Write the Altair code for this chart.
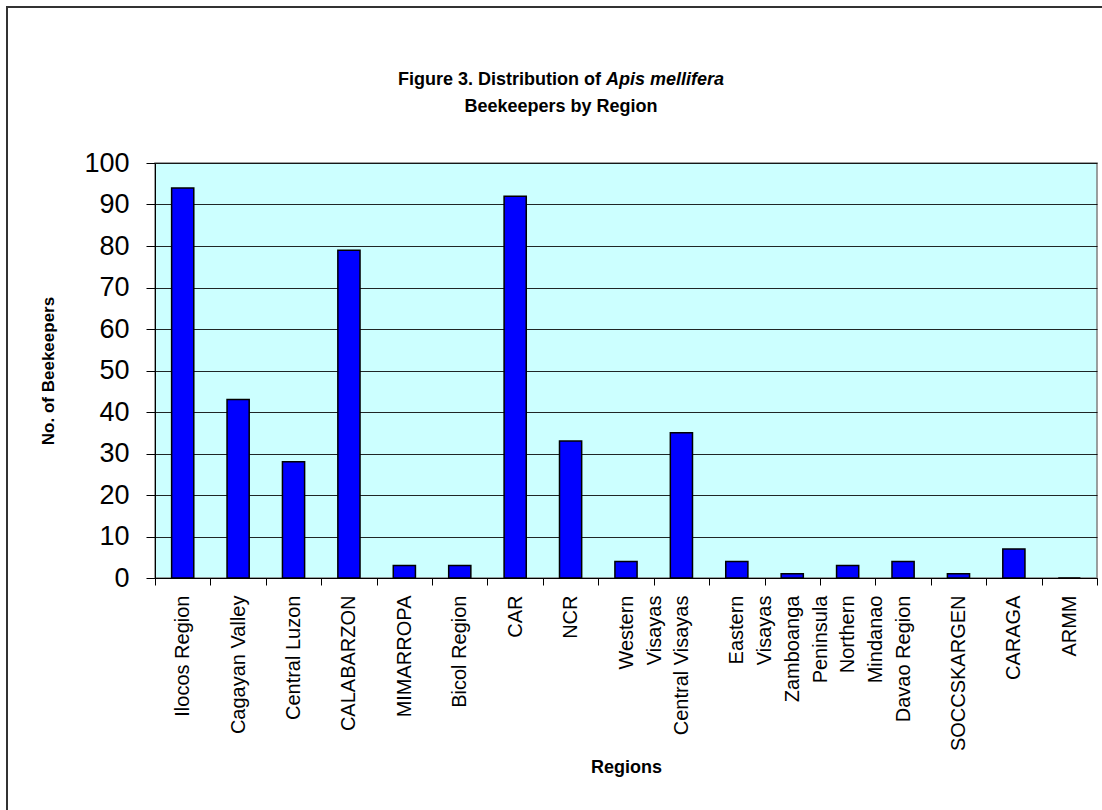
import altair as alt
import pandas as pd

# Beekeepers keeping Apis mellifera, by region
regions = [
    "Ilocos Region", "Cagayan Valley", "Central Luzon", "CALABARZON",
    "MIMARROPA", "Bicol Region", "CAR", "NCR", "Western\nVisayas",
    "Central Visayas", "Eastern\nVisayas", "Zamboanga\nPeninsula",
    "Northern\nMindanao", "Davao Region", "SOCCSKARGEN", "CARAGA", "ARMM",
]
beekeepers = [94, 43, 28, 79, 3, 3, 92, 33, 4, 35, 4, 1, 3, 4, 1, 7, 0]
y_ticks = [0, 10, 20, 30, 40, 50, 60, 70, 80, 90, 100]

title_lead = "Figure 3. Distribution of"
title_species = "Apis mellifera"
title_second = "Beekeepers by Region"
x_title = "Regions"
y_title = "No. of Beekeepers"

PLOT_W, PLOT_H = 942, 415
FONT = "Liberation Sans, Arial, sans-serif"
NARROW = "Liberation Sans Narrow, Arial Narrow, Liberation Sans, Arial, sans-serif"

df = pd.DataFrame({"Region": regions, "Beekeepers": beekeepers})
one = pd.DataFrame({"k": [0]})

bars = alt.Chart(df).mark_bar(
    color="#0000FF", stroke="#000000", strokeWidth=1.5,
    width=alt.RelativeBandSize(0.4),
).encode(
    x=alt.X(
        "Region:N", sort=None,
        scale=alt.Scale(paddingInner=0, paddingOuter=0),
        axis=alt.Axis(
            title=x_title, labelAngle=270, labelAlign="right", labelBaseline="middle",
            labelExpr="split(datum.label, '\\n')", labelFont=FONT, labelFontSize=20,
            labelColor="#000000", labelLineHeight=28, labelPadding=10, labelLimit=400,
            labelOverlap=False, tickBand="extent", ticks=True, tickSize=7,
            tickColor="#000000", tickWidth=1, domainColor="#000000", domainWidth=1,
            grid=False, titleFont=NARROW, titleFontSize=18, titleFontWeight="bold",
            titleColor="#000000", titleX=PLOT_W / 2, titleY=189,
            titleBaseline="middle", titleAlign="center",
        ),
    ),
    y=alt.Y(
        "Beekeepers:Q",
        scale=alt.Scale(domain=[0, 100], nice=False),
        axis=alt.Axis(
            values=y_ticks, title=y_title, labelFont=FONT, labelFontSize=27,
            labelColor="#000000", labelPadding=17, tickSize=9, tickColor="#000000",
            tickWidth=1, domainColor="#000000", domainWidth=1, grid=True,
            gridColor="#000000", gridWidth=1, gridOpacity=0.85,
            titleFont=NARROW, titleFontSize=17, titleFontWeight="bold",
            titleColor="#000000", titleX=-107, titleY=PLOT_H / 2, titleAngle=270,
            titleBaseline="middle", titleAlign="center",
        ),
    ),
)

# frame around the whole figure
frame = alt.Chart(one).mark_rect(
    fill=None, stroke="#333333", strokeWidth=2
).encode(
    x=alt.value(-148), x2=alt.value(PLOT_W + 20),
    y=alt.value(-156), y2=alt.value(PLOT_H + 250),
)

# first title line: plain lead-in, then the species name in italics
title_a = alt.Chart(one).mark_text(
    text=title_lead, font=NARROW, fontSize=18, fontWeight="bold",
    align="right", baseline="middle", color="#000000",
).encode(x=alt.value(446), y=alt.value(-83))

title_b = alt.Chart(one).mark_text(
    text=title_species, font=NARROW, fontSize=18, fontWeight="bold",
    fontStyle="italic", align="left", baseline="middle", color="#000000", dx=5,
).encode(x=alt.value(446), y=alt.value(-83))

title_c = alt.Chart(one).mark_text(
    text=title_second, font=NARROW, fontSize=18, fontWeight="bold",
    align="center", baseline="middle", color="#000000",
).encode(x=alt.value(406), y=alt.value(-56))

chart = alt.layer(frame, bars, title_a, title_b, title_c).properties(
    width=PLOT_W, height=PLOT_H,
    padding={"left": 155, "top": 163, "right": 5, "bottom": 232},
    autosize=alt.AutoSizeParams(type="none"),
    background="#FFFFFF",
).configure_view(
    fill="#CCFFFF", stroke="#808080", strokeWidth=1.5,
)

chart.save("out.html", embed_options={"renderer": "svg", "actions": False})
